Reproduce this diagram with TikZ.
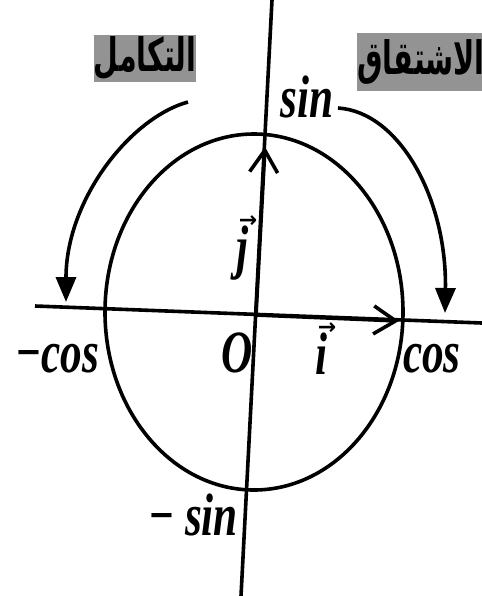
\documentclass[tikz,border=0pt]{standalone}
\usepackage{fontspec}
\setmainfont{Liberation Serif}
\newfontfamily\lblfont{Liberation Serif Bold Italic}[FakeStretch=0.72]
\newfontfamily\arrfont{DejaVu Sans Bold}
\newfontfamily\arabicfont{DejaVu Sans}[Script=Arabic, FakeStretch=0.62]
\TeXXeTstate=1
\usetikzlibrary{arrows.meta, calc}
\newcommand{\vecarr}[1]{\vbox{\offinterlineskip\halign{\hfil##\hfil\cr
  \kern5pt{\arrfont\fontsize{11}{11}\selectfont →}\cr\noalign{\kern-1pt}#1\cr}}}

\begin{document}
\begin{tikzpicture}[
    x=0.5pt, y=-0.5pt,
    axis/.style={line width=1.8pt},
    vecarrow/.style={line width=1.8pt, -{Straight Barb[length=11pt, width=14pt]}},
    bendarrow/.style={line width=1.8pt, -{Triangle[length=12.5pt, width=10pt]}},
    trig/.style={font=\lblfont\fontsize{30}{36}\selectfont, inner sep=0pt, anchor=base},
    arlabel/.style={fill=gray!85, inner sep=0pt, font=\arabicfont\bfseries\fontsize{23}{26}\selectfont}
]
  \useasboundingbox (0,0) rectangle (482,596);

  % Axes
  \coordinate (xl) at (35,306);
  \coordinate (xr) at (482,323);
  \coordinate (yt) at (272,0);
  \coordinate (yb) at (241,596);
  \coordinate (o) at (256,315);
  \draw[axis] (xl) -- (xr);
  \draw[axis] (yt) -- (yb);

  % Unit circle
  \draw[axis] (254,312) ellipse [x radius=149, y radius=178];

  % Unit vectors
  \coordinate (itip) at (399,321);
  \coordinate (jtip) at (265,147);
  \draw[vecarrow] (o) -- (itip);
  \draw[vecarrow] (o) -- (jtip);

  % Labels
  \node[trig] (sinlbl) at (307,117) {sin};
  \node[trig] (msinlbl) at (193,535) {− sin};
  \node[trig] (coslbl) at (432,372) {cos};
  \node[trig] (mcoslbl) at (57,372) {−cos};
  \node[trig] (olbl) at (237,372) {O};
  \node[trig] (ilbl) at (322,374) {\vecarr{i}};
  \node[trig] (jlbl) at (243,267) {\vecarr{j}};

  % Arabic labels
  \node[arlabel, minimum width=47.5pt, minimum height=23.5pt] (intlbl) at (145,58)
    {\beginR التكامل\endR};
  \node[arlabel, minimum width=58pt, minimum height=29pt] (derlbl) at (421,62)
    {\beginR الاشتقاق\endR};

  % Curved arrows
  \coordinate (lstart) at (188,102);
  \coordinate (ltip) at (66,302);
  \coordinate (rstart) at (338,108);
  \coordinate (rtip) at (445,313);
  \draw[bendarrow] (lstart) .. controls (130,118) and (66,200) .. (ltip);
  \draw[bendarrow] (rstart) .. controls (400,112) and (447,200) .. (rtip);
\end{tikzpicture}
\end{document}
